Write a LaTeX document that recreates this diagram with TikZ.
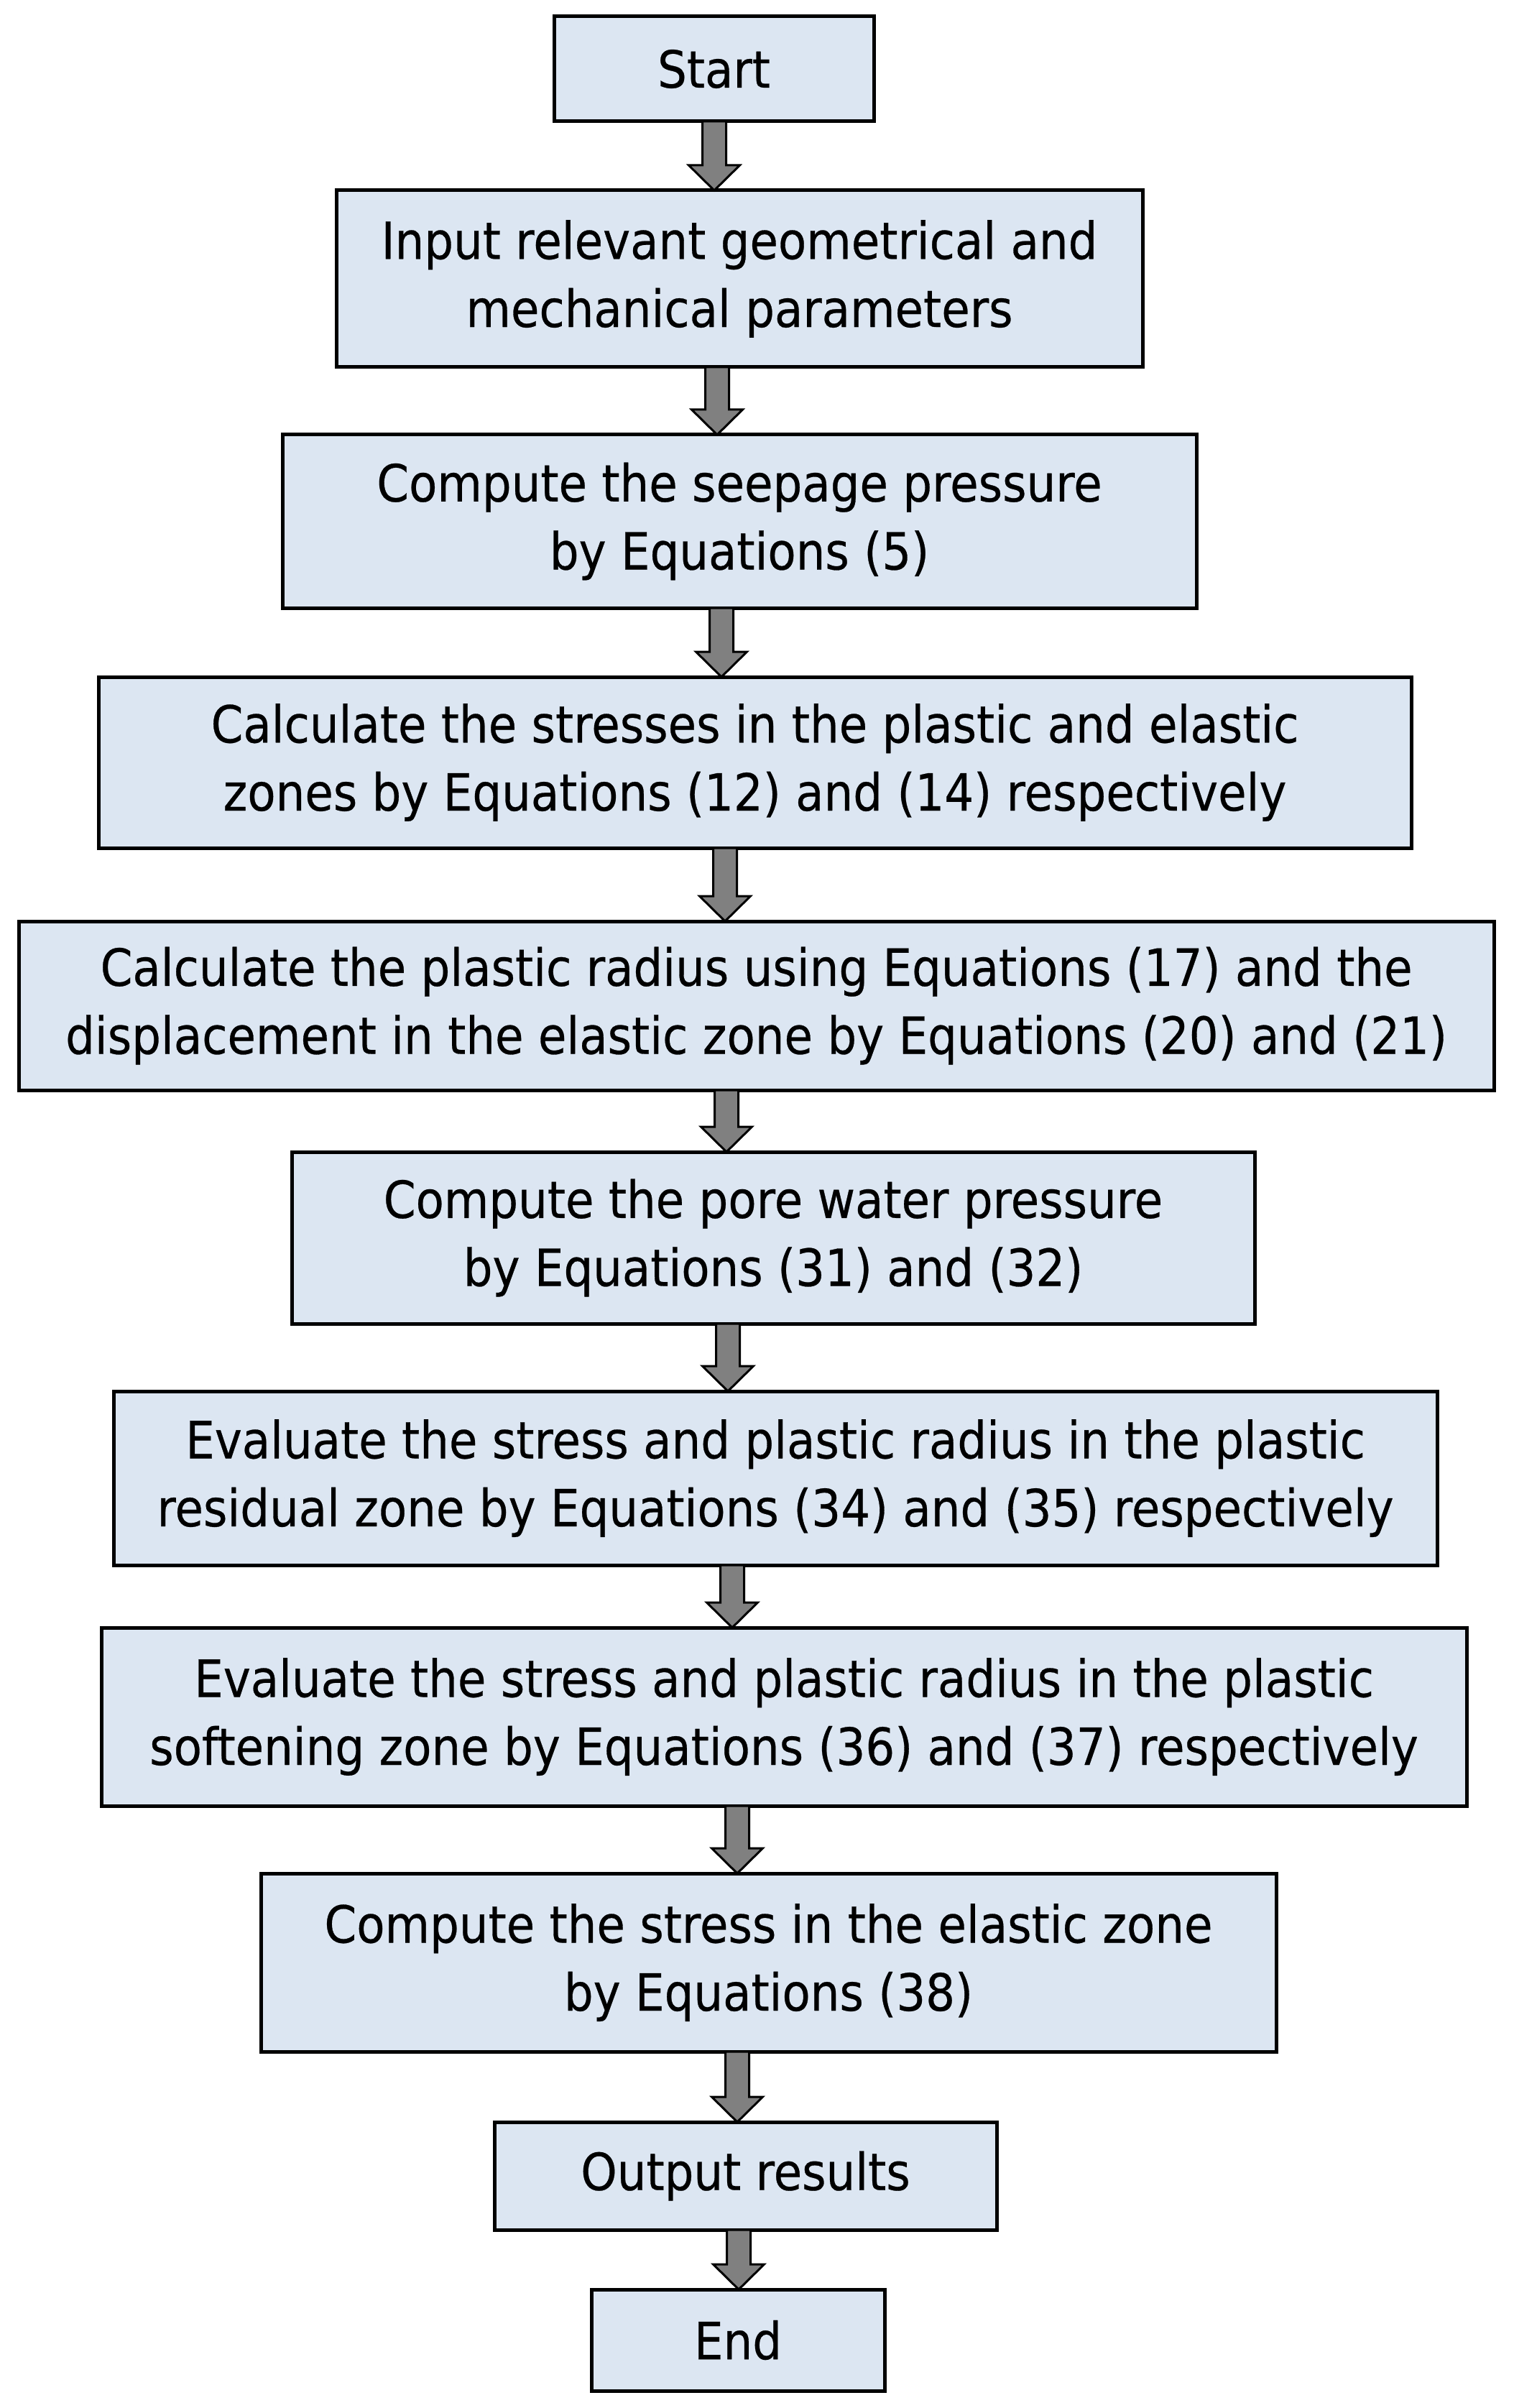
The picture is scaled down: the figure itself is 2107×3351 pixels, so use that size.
\documentclass[tikz,border=0pt]{standalone}
\usepackage{fontspec}
\setmainfont{DejaVu Sans}[FakeStretch=0.9,FakeBold=0.4]
\usetikzlibrary{calc}
\definecolor{boxfill}{RGB}{220,230,242}
\definecolor{arrfill}{RGB}{128,128,128}
\newcommand\flowbox[6]{%
  \node[box,minimum width={(#4-#2)*0.3pt},minimum height={(#5-#3)*0.3pt}]
    (#1) at ({(#2+#4)/2},{(#3+#5)/2}) {#6};}
\newcommand\flowarrow[3]{%
  \path let \p1=(#1.south -| #3), \p2=(#2.north -| #3) in
    [arrowshape] (\x1-4.95pt,\y1) -- (\x1-4.95pt,\y2+10.5pt) -- (\x1-10.65pt,\y2+10.5pt)
    -- (\x1,\y2) -- (\x1+10.65pt,\y2+10.5pt) -- (\x1+4.95pt,\y2+10.5pt) -- (\x1+4.95pt,\y1) -- cycle;}
\begin{document}
\begin{tikzpicture}[x=0.3pt,y=-0.3pt,
  box/.style={draw=black,line width=1.5pt,fill=boxfill,inner sep=0pt,outer sep=0pt,align=center,
    font=\fontsize{21.4}{28.4}\selectfont},
  arrowshape/.style={draw=black,fill=arrfill,line width=0.9pt,line join=miter}]
\useasboundingbox (0,0) rectangle (2107,3351);
\fill[white] (0,0) rectangle (2107,3351);
\flowbox{start}{771}{23}{1216}{169}{Start}
\flowbox{input}{468}{265}{1590}{511}{Input relevant geometrical and\\mechanical parameters}
\flowbox{seep}{393}{605}{1665}{846}{Compute the seepage pressure\\by Equations (5)}
\flowbox{stress}{137}{942}{1964}{1180}{Calculate the stresses in the plastic and elastic\\zones by Equations (12) and (14) respectively}
\flowbox{radius}{26}{1282}{2079}{1517}{Calculate the plastic radius using Equations (17) and the\\displacement in the elastic zone by Equations (20) and (21)}
\flowbox{pore}{406}{1603}{1746}{1842}{Compute the pore water pressure\\by Equations (31) and (32)}
\flowbox{resid}{158}{1936}{2000}{2178}{Evaluate the stress and plastic radius in the plastic\\residual zone by Equations (34) and (35) respectively}
\flowbox{soft}{141}{2265}{2041}{2513}{Evaluate the stress and plastic radius in the plastic\\softening zone by Equations (36) and (37) respectively}
\flowbox{elastic}{363}{2607}{1776}{2855}{Compute the stress in the elastic zone\\by Equations (38)}
\flowbox{output}{688}{2953}{1387}{3103}{Output results}
\flowbox{end}{823}{3186}{1231}{3327}{End}
\coordinate (a1) at (994,0);
\coordinate (a2) at (998,0);
\coordinate (a3) at (1004,0);
\coordinate (a4) at (1009,0);
\coordinate (a5) at (1011,0);
\coordinate (a6) at (1013,0);
\coordinate (a7) at (1019,0);
\coordinate (a8) at (1026,0);
\coordinate (a9) at (1026,0);
\coordinate (a10) at (1028,0);
\flowarrow{start}{input}{a1}
\flowarrow{input}{seep}{a2}
\flowarrow{seep}{stress}{a3}
\flowarrow{stress}{radius}{a4}
\flowarrow{radius}{pore}{a5}
\flowarrow{pore}{resid}{a6}
\flowarrow{resid}{soft}{a7}
\flowarrow{soft}{elastic}{a8}
\flowarrow{elastic}{output}{a9}
\flowarrow{output}{end}{a10}
\end{tikzpicture}
\end{document}
